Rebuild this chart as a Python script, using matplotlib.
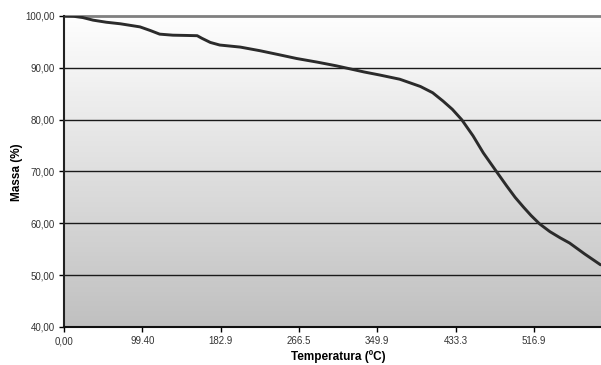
import matplotlib.pyplot as plt
import numpy as np

plt.rcParams["font.family"] = ["Liberation Sans", "DejaVu Sans"]

# temperatura (ºC, approx.) e massa (%)
temperatura = [0, 10, 20, 31, 45, 60, 74, 81, 92, 102, 116, 130, 142, 147, 156,
               166, 188, 209, 230, 248, 270, 290, 305, 320, 337, 358, 380, 393,
               404, 414, 424, 436, 447, 461, 472, 481, 490, 498, 507, 518, 529,
               539, 555, 572]
massa = [100.0, 99.95, 99.7, 99.2, 98.8, 98.5, 98.1, 97.9, 97.2, 96.5, 96.3,
         96.25, 96.2, 95.7, 94.9, 94.4, 94.0, 93.3, 92.5, 91.8, 91.1, 90.4, 89.8,
         89.2, 88.6, 87.8, 86.4, 85.2, 83.6, 82.0, 80.0, 76.9, 73.6, 70.0, 67.2,
         65.0, 63.1, 61.5, 59.9, 58.4, 57.2, 56.2, 54.1, 52.0]

xtick_labels = ["0,00", "99.40", "182.9", "266.5", "349.9", "433.3", "516.9"]
yticks = [40, 50, 60, 70, 80, 90, 100]
ytick_labels = ["40,00", "50,00", "60,00", "70,00", "80,00", "90,00", "100,00"]

fig = plt.figure(figsize=(6.01, 3.65), dpi=100)
ax = fig.add_axes([64 / 601, 1 - 327 / 365, 537 / 601, 311 / 365])

xmax = 572.5
step = 83.5
ax.set_xlim(0, xmax)
ax.set_ylim(40, 100)

# fundo em degradê
grad = np.linspace(0, 1, 256).reshape(-1, 1)
ax.imshow(grad, extent=[0, 1, 0, 1], transform=ax.transAxes, aspect="auto",
          cmap=plt.matplotlib.colors.LinearSegmentedColormap.from_list(
              "g", ["#fefefe", "#c0c0c0"]), zorder=0)

for y in yticks[1:-1]:
    ax.axhline(y, color="#1a1a1a", lw=1.0, zorder=1)
ax.axhline(100, color="#808080", lw=2.0, zorder=1, clip_on=False)

ax.plot(temperatura, massa, color="#2b2b2b", lw=2.1, zorder=3,
        solid_joinstyle="round", solid_capstyle="round")

ax.set_xticks(np.arange(len(xtick_labels)) * step)
ax.set_xticklabels(xtick_labels)
ax.set_yticks(yticks)
ax.set_yticklabels(ytick_labels)
ax.tick_params(axis="both", labelsize=7, colors="#000000", labelcolor="#333333",
               length=3.5, width=1.0, direction="out", pad=3)

for s in ["top", "right"]:
    ax.spines[s].set_visible(False)
ax.spines["left"].set_color("#222222")
ax.spines["left"].set_linewidth(1.5)
ax.spines["bottom"].set_color("#111111")
ax.spines["bottom"].set_linewidth(1.5)

fig.text(338 / 601, 1 - 357 / 365, "Temperatura (ºC)", fontsize=8.5,
         fontweight="bold", ha="center", va="center")
fig.text(17 / 601, 1 - 172 / 365, "Massa (%)", fontsize=8.5,
         fontweight="bold", ha="center", va="center", rotation=90)

fig.savefig("out.png", dpi=100)
